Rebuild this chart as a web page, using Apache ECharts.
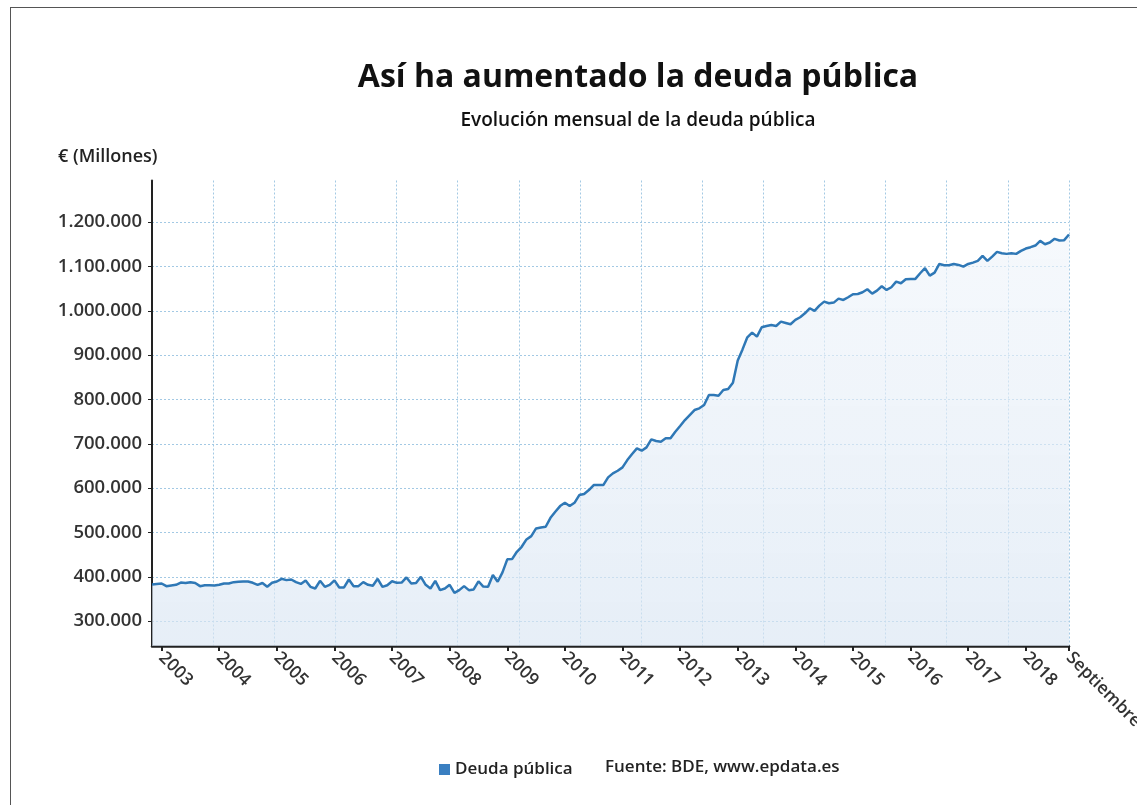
<!DOCTYPE html>
<html>
<head>
<meta charset="utf-8">
<script src="https://cdn.jsdelivr.net/npm/echarts@6/dist/echarts.min.js"></script>
<style>
html, body { margin: 0; padding: 0; background: #fff; }
#frame { position: absolute; left: 10px; top: 7px; width: 1127px; height: 798px; border-left: 1px solid #555; border-top: 1px solid #555; box-sizing: border-box; }
#chart { position: absolute; left: 0; top: 0; width: 1137px; height: 805px; }
</style>
</head>
<body>
<div id="frame"></div>
<div id="chart"></div>
<script>
// Monthly public debt (millions of euros), October 2002 - September 2018
const startYear = 2002;
const startMonth = 10;
const deuda = [
  382800, 384000, 385000, 379000, 380500, 382000, 387000, 386000, 388000, 386000, 379000, 381000,
  381000, 380500, 382000, 385000, 385000, 388000, 388800, 389500, 389500, 386500, 382000, 386000,
  377500, 386500, 389500, 395600, 392600, 394000, 388000, 384000, 392000, 377500, 373700, 391000,
  377500, 382000, 392000, 376000, 376000, 394000, 379000, 379000, 388000, 382000, 380000, 395600,
  377500, 381000, 390000, 386500, 387000, 398600, 385000, 386000, 400000, 382000, 373700, 391000,
  370000, 373700, 382000, 364000, 370000, 379000, 370000, 371500, 390000, 378000, 377500, 404000,
  389000, 410000, 439500, 440000, 456500, 467800, 484400, 491900, 509200, 511500, 513000, 533200,
  546800, 559600, 567000, 559600, 567000, 584400, 586700, 595700, 607000, 607000, 607000, 624300,
  633300, 639300, 646900, 663400, 677000, 689800, 684500, 692000, 710100, 706300, 704800, 712400,
  712400, 727400, 740200, 753700, 765000, 776300, 780100, 787600, 810200, 810200, 808600, 821400,
  823700, 837900, 888000, 913000, 940300, 950800, 941800, 962900, 965900, 968200, 965900, 975700,
  972700, 969700, 979500, 985500, 994500, 1005800, 999800, 1011800, 1020800, 1017100, 1018600, 1027600,
  1024600, 1030600, 1037400, 1038100, 1041900, 1048700, 1038900, 1045600, 1055500, 1047200, 1053200, 1065900,
  1062300, 1071300, 1072000, 1072000, 1084800, 1096100, 1079400, 1086200, 1105800, 1102900, 1102900, 1105800,
  1103600, 1099800, 1105800, 1108800, 1112600, 1123900, 1112600, 1122400, 1133000, 1130000, 1128500, 1130000,
  1128500, 1135200, 1140500, 1143600, 1147300, 1157800, 1150300, 1154100, 1162400, 1158700, 1159400, 1172100
];
const tickLabels = ['2003', '2004', '2005', '2006', '2007', '2008', '2009', '2010', '2011', '2012',
  '2013', '2014', '2015', '2016', '2017', '2018', 'Septiembre'];

const meses = deuda.map(function (_, i) {
  const m = startMonth - 1 + i;
  return (startYear + Math.floor(m / 12)) + '-' + String(m % 12 + 1).padStart(2, '0');
});
// year labels sit at the turn of each year (December point), last label on the final month
const tickMap = {};
let k = 0;
meses.forEach(function (mm, i) {
  if (mm.slice(5) === '12' && k < tickLabels.length - 1) { tickMap[i] = tickLabels[k]; k++; }
});
tickMap[meses.length - 1] = tickLabels[tickLabels.length - 1];

function fmtNum(v) { return String(v).replace(/\B(?=(\d{3})+(?!\d))/g, '.'); }

const FONT = '"Open Sans", "Noto Sans", sans-serif';
const gridColor = '#a3c9e4';

const chart = echarts.init(document.getElementById('chart'), null, { renderer: 'canvas' });
chart.setOption({
  backgroundColor: 'transparent',
  animation: false,
  textStyle: { fontFamily: FONT },
  grid: { left: 152, right: 68, top: 180.5, bottom: 159, containLabel: false, outerBoundsMode: 'none' },
  legend: {
    data: ['Deuda pública'],
    left: 434, top: 756,
    icon: 'rect', itemWidth: 11, itemHeight: 11, itemGap: 6,
    textStyle: { fontSize: 17, fontWeight: 600, color: '#222', fontFamily: FONT }
  },
  graphic: [
    { type: 'text', x: 638, y: 78, style: { text: 'Así ha aumentado la deuda pública', font: 'bold 32px ' + FONT, fill: '#111', align: 'center', verticalAlign: 'middle', textAlign: 'center', textVerticalAlign: 'middle', shadowColor: 'rgba(0,0,0,0.25)', shadowBlur: 2, shadowOffsetY: 1 } },
    { type: 'text', x: 638, y: 121, style: { text: 'Evolución mensual de la deuda pública', font: '600 19px ' + FONT, fill: '#111', align: 'center', verticalAlign: 'middle', textAlign: 'center', textVerticalAlign: 'middle' } },
    { type: 'text', x: 58, y: 157, style: { text: '€ (Millones)', font: '600 18px ' + FONT, fill: '#222', align: 'left', verticalAlign: 'middle', textAlign: 'left', textVerticalAlign: 'middle' } },
    { type: 'text', x: 605, y: 767, style: { text: 'Fuente: BDE, www.epdata.es', font: '600 17px ' + FONT, fill: '#222', align: 'left', verticalAlign: 'middle', textAlign: 'left', textVerticalAlign: 'middle' } }
  ],
  xAxis: [
    {
      type: 'category', data: meses, boundaryGap: false,
      axisLine: { show: true, lineStyle: { color: '#222', width: 2.5 } },
      axisTick: { show: true, length: 5, lineStyle: { color: '#222', width: 2 }, interval: function (i) { return tickMap[i] !== undefined; } },
      axisLabel: {
        interval: function (i) { return tickMap[i] !== undefined; },
        formatter: function (v, i) { return tickMap[i] || ''; },
        rotate: -45, margin: 9, fontSize: 17.5, fontWeight: 600, color: '#333', fontFamily: FONT
      },
      splitLine: { show: false }
    },
    {
      type: 'value', min: 0, max: 15, interval: 1, position: 'top',
      axisLine: { show: false }, axisTick: { show: false }, axisLabel: { show: false },
      splitLine: { show: true, lineStyle: { color: gridColor, type: [2, 2], width: 1 } }
    }
  ],
  yAxis: {
    type: 'value', min: 244000, max: 1294000, splitNumber: 10, minInterval: 100000, maxInterval: 100000,
    axisLine: { show: true, lineStyle: { color: '#222', width: 2 } },
    axisTick: { show: true, length: 4, lineStyle: { color: '#222' } },
    axisLabel: {
      showMinLabel: false, showMaxLabel: false, margin: 10,
      fontSize: 18.5, fontWeight: 600, color: '#333', fontFamily: FONT,
      formatter: fmtNum
    },
    splitLine: { show: true, showMinLine: false, showMaxLine: false, lineStyle: { color: gridColor, type: [2, 2], width: 1 } }
  },
  series: [{
    name: 'Deuda pública', type: 'line', data: deuda, xAxisIndex: 0, yAxisIndex: 0,
    symbol: 'none', showSymbol: false,
    itemStyle: { color: '#3a7fc1' },
    lineStyle: { color: '#2f78b6', width: 2.5 },
    areaStyle: {
      color: new echarts.graphic.LinearGradient(0, 0, 0, 1, [
        { offset: 0, color: 'rgba(240,245,251,0.9)' },
        { offset: 1, color: 'rgba(218,230,243,0.95)' }
      ])
    }
  }]
});
</script>
</body>
</html>
